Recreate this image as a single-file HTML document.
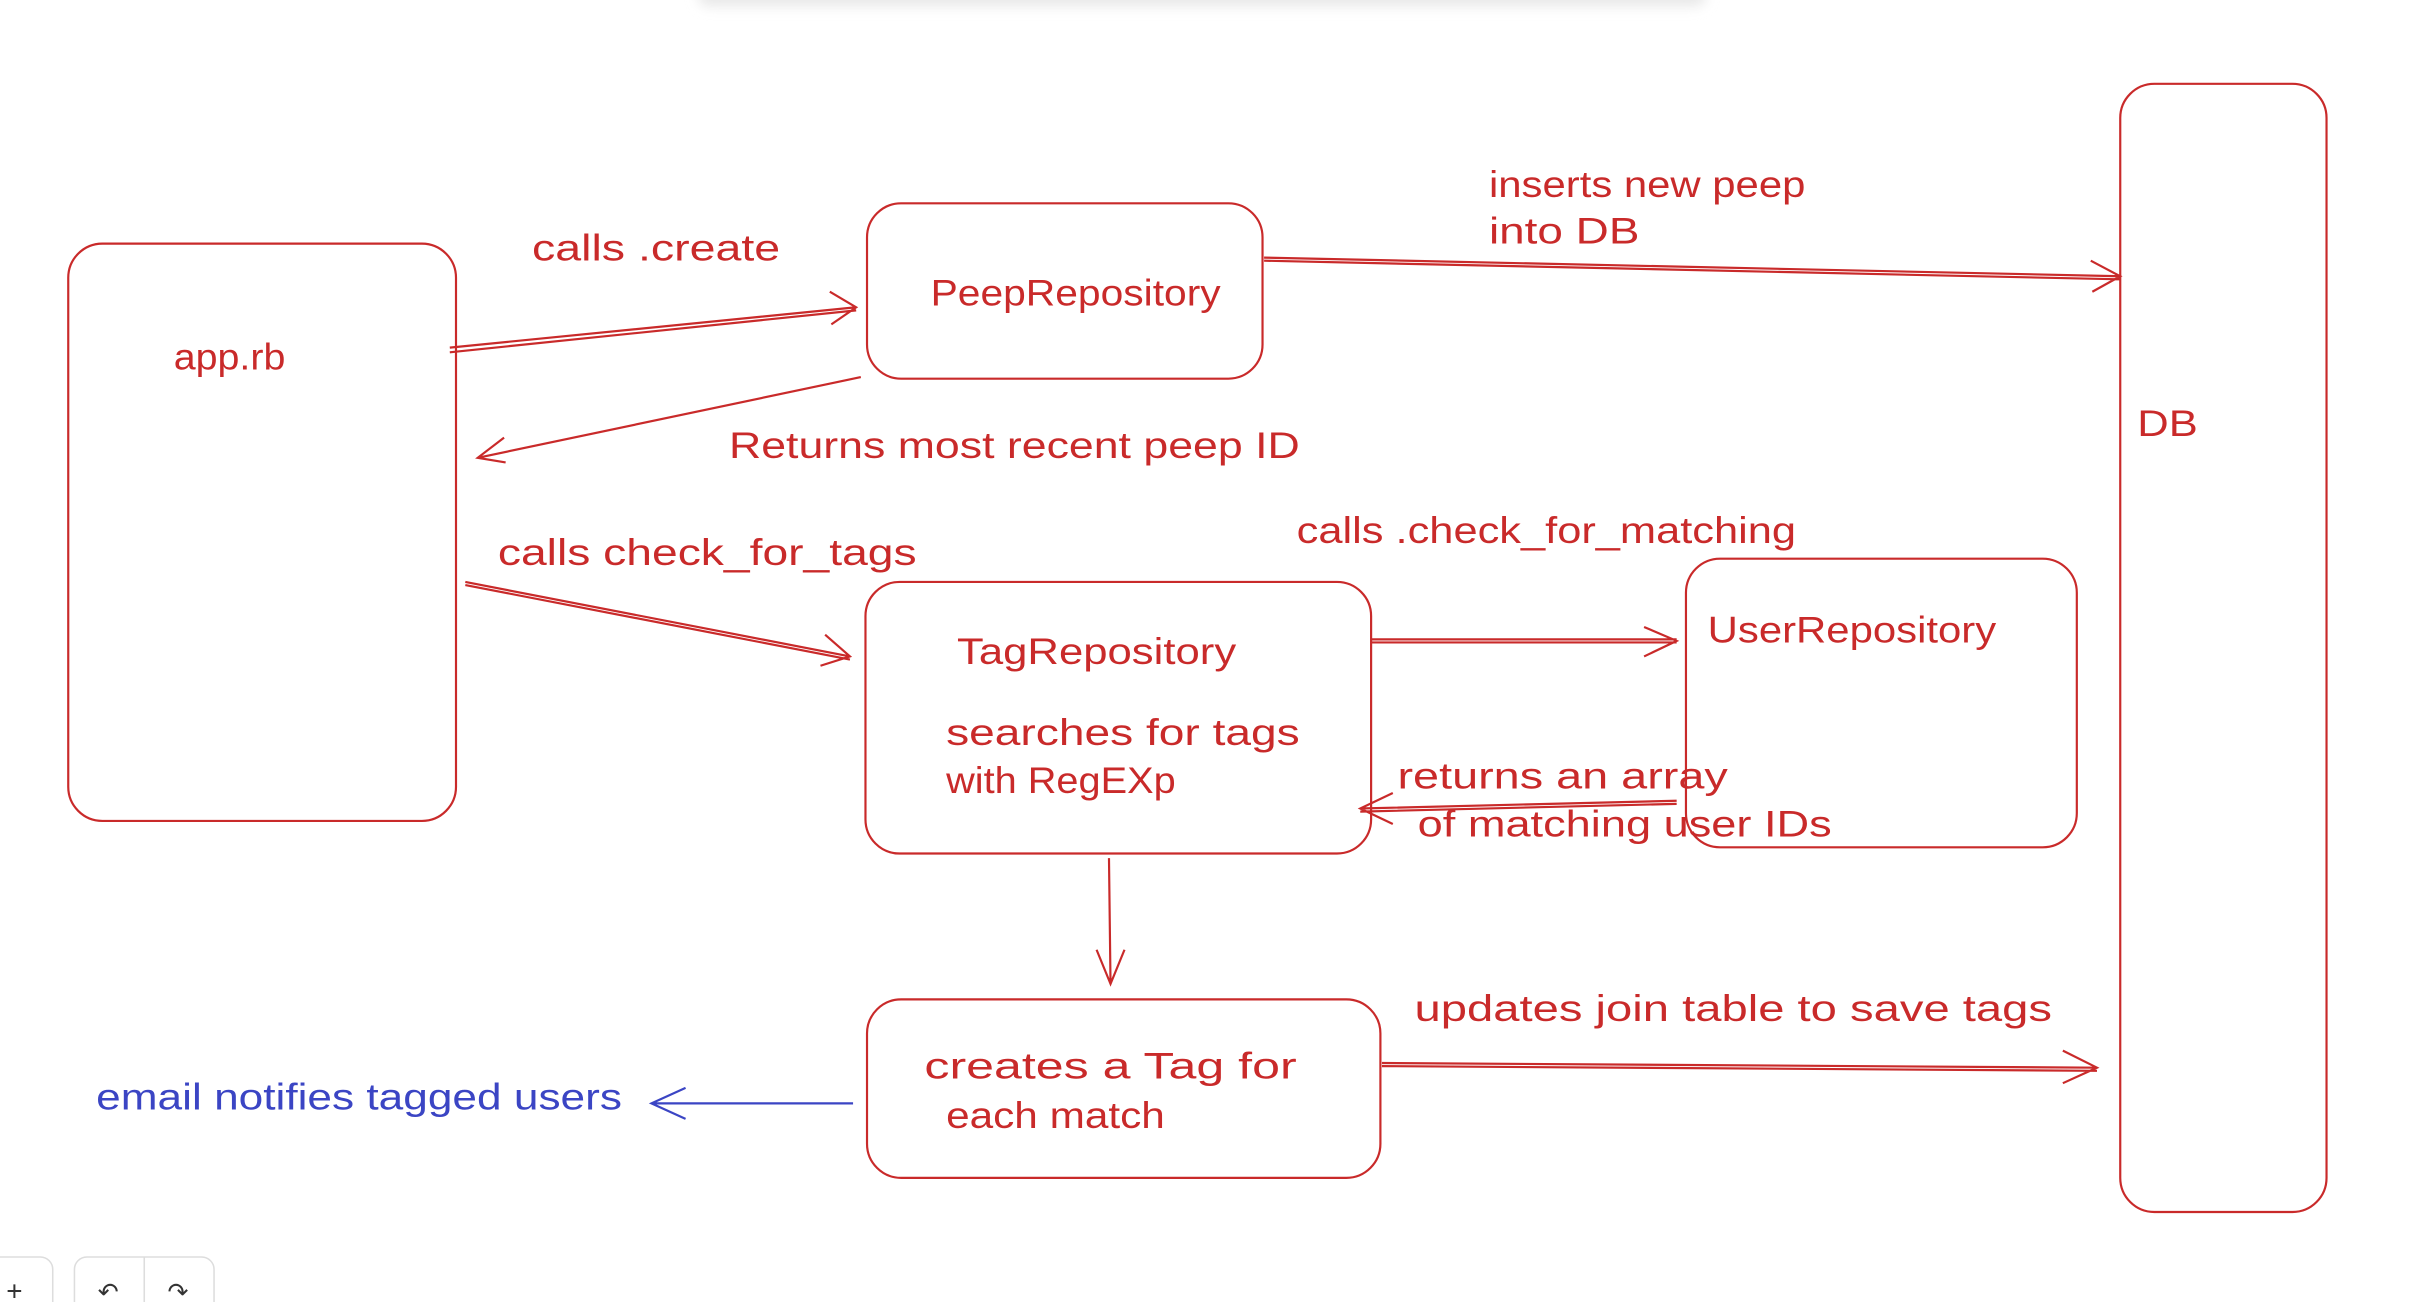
<!DOCTYPE html>
<html><head><meta charset="utf-8"><style>
html,body{margin:0;padding:0;background:#fff;width:2432px;height:1302px;overflow:hidden}
svg{display:block}
text{font-family:"Liberation Sans",sans-serif;font-size:24px;fill:#c92a2a}
</style></head><body>
<svg width="2432" height="1302" viewBox="0 0 1568 839" preserveAspectRatio="none">
<defs>
<filter id="sh" x="-10%" y="-200%" width="120%" height="500%"><feGaussianBlur stdDeviation="4"/></filter>
</defs>
<rect x="450" y="-10" width="650" height="14" rx="7" fill="#e8e8e8" filter="url(#sh)"/>
<g fill="none" stroke="#c92a2a" stroke-width="1.4">
<rect x="44" y="157" width="250" height="372" rx="22"/>
<rect x="559" y="131" width="255" height="113" rx="22"/>
<rect x="1367" y="54" width="133" height="727" rx="22"/>
<rect x="558" y="375" width="326" height="175" rx="22"/>
<rect x="1087" y="360" width="252" height="186" rx="22"/>
<rect x="559" y="644" width="331" height="115" rx="22"/>
<path d="M290 224 L552 198 M290 227 L552 200 M535 188 L552 198 L536 209"/>
<path d="M555 243 L308 295 M325 282 L308 295 L326 298"/>
<path d="M815 166 L1367 178 M815 168 L1367 180 M1348 168 L1367 178 L1349 188"/>
<path d="M300 375 L548 423 M300 377 L548 425 M532 409 L548 423 L529 429"/>
<path d="M884 412 L1081 412 M884 414 L1081 414 M1060 404 L1081 413 L1060 423"/>
<path d="M1081 516 L877 521 M1081 518 L877 523 M898 511 L877 521 L898 531"/>
<path d="M715 553 L716 634 M707 612 L716 634 L725 612"/>
<path d="M891 685 L1352 688 M891 687 L1352 690 M1330 677 L1352 688 L1330 698"/>
</g>
<g fill="none" stroke="#3b45c4" stroke-width="1.4">
<path d="M550 711 L420 711 M442 701 L420 711 L442 721"/>
</g>
<g style="font-size:24px">
<text x="112" y="238" textLength="72" lengthAdjust="spacingAndGlyphs">app.rb</text>
<text x="600" y="197" textLength="187" lengthAdjust="spacingAndGlyphs">PeepRepository</text>
<text x="1378" y="281" textLength="39" lengthAdjust="spacingAndGlyphs">DB</text>
<text x="617" y="428" textLength="180" lengthAdjust="spacingAndGlyphs">TagRepository</text>
<text x="610" y="480" textLength="228" lengthAdjust="spacingAndGlyphs">searches for tags</text>
<text x="610" y="511" textLength="148" lengthAdjust="spacingAndGlyphs">with RegEXp</text>
<text x="1101" y="414" textLength="186" lengthAdjust="spacingAndGlyphs">UserRepository</text>
<text x="596" y="695" textLength="240" lengthAdjust="spacingAndGlyphs">creates a Tag for</text>
<text x="610" y="727" textLength="141" lengthAdjust="spacingAndGlyphs">each match</text>
<text x="343" y="168" textLength="160" lengthAdjust="spacingAndGlyphs">calls .create</text>
<text x="470" y="295" textLength="368" lengthAdjust="spacingAndGlyphs">Returns most recent peep ID</text>
<text x="960" y="127" textLength="204" lengthAdjust="spacingAndGlyphs">inserts new peep</text>
<text x="960" y="157" textLength="97" lengthAdjust="spacingAndGlyphs">into DB</text>
<text x="321" y="364" textLength="270" lengthAdjust="spacingAndGlyphs">calls check_for_tags</text>
<text x="836" y="350" textLength="322" lengthAdjust="spacingAndGlyphs">calls .check_for_matching</text>
<text x="901" y="508" textLength="213" lengthAdjust="spacingAndGlyphs">returns an array</text>
<text x="914" y="539" textLength="267" lengthAdjust="spacingAndGlyphs">of matching user IDs</text>
<text x="912" y="658" textLength="411" lengthAdjust="spacingAndGlyphs">updates join table to save tags</text>
<text x="62" y="715" textLength="339" lengthAdjust="spacingAndGlyphs" style="fill:#3b45c4">email notifies tagged users</text>
</g>
<g fill="#fff" stroke="#ddd" stroke-width="1">
<rect x="-10" y="810" width="44" height="40" rx="8"/>
<rect x="48" y="810" width="90" height="40" rx="8"/>
<line x1="93" y1="810" x2="93" y2="839"/>
</g>
<text x="4" y="838" style="fill:#333;font-size:18px">+</text>
<text x="63" y="838" style="fill:#333;font-size:16px">↶</text>
<text x="108" y="838" style="fill:#333;font-size:16px">↷</text>
</svg>
</body></html>
